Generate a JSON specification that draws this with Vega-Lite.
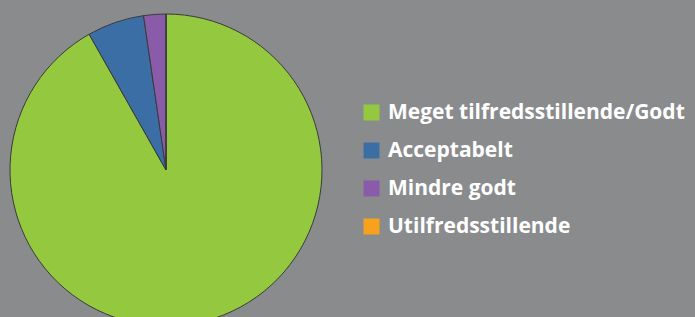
{
  "$schema": "https://vega.github.io/schema/vega-lite/v6.json",
  "width": 332,
  "height": 340,
  "padding": {"left": 0, "top": 0, "right": 363, "bottom": 0},
  "autosize": {"type": "none"},
  "background": "#8a8b8d",
  "data": {
    "values": [
      {"kategori": "Meget tilfredsstillende/Godt", "andel": 91.8, "rk": 1},
      {"kategori": "Acceptabelt", "andel": 5.9, "rk": 2},
      {"kategori": "Mindre godt", "andel": 2.3, "rk": 3},
      {"kategori": "Utilfredsstillende", "andel": 0, "rk": 4}
    ]
  },
  "mark": {"type": "arc", "outerRadius": 156, "stroke": "#3a3a3a", "strokeWidth": 1},
  "encoding": {
    "theta": {"field": "andel", "type": "quantitative", "stack": true},
    "order": {"field": "rk", "type": "quantitative"},
    "color": {
      "field": "kategori",
      "type": "nominal",
      "sort": ["Meget tilfredsstillende/Godt", "Acceptabelt", "Mindre godt", "Utilfredsstillende"],
      "scale": {
        "domain": ["Meget tilfredsstillende/Godt", "Acceptabelt", "Mindre godt", "Utilfredsstillende"],
        "range": ["#93c83f", "#3c6ea6", "#8a5ba8", "#f7a11c"]
      },
      "legend": {
        "title": null,
        "orient": "none",
        "legendX": 361,
        "legendY": 102,
        "symbolType": "square",
        "symbolSize": 256,
        "symbolStrokeWidth": 0,
        "labelColor": "#ffffff",
        "labelFont": "Open Sans",
        "labelFontSize": 21,
        "labelFontWeight": "bold",
        "labelOffset": 6,
        "rowPadding": 16,
        "labelLimit": 400
      }
    }
  },
  "config": {"view": {"stroke": null}}
}
